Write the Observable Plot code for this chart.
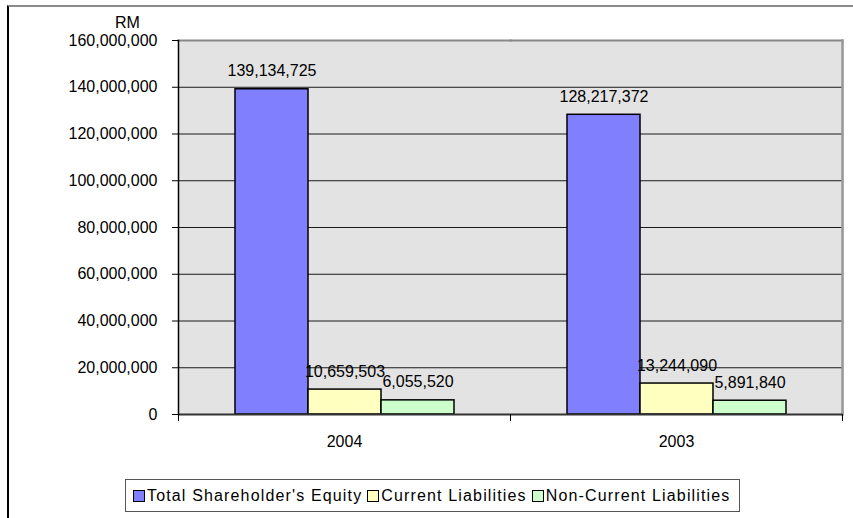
<!DOCTYPE html>
<html><head><meta charset="utf-8">
<script src="https://cdn.jsdelivr.net/npm/d3@7"></script>
<script src="https://cdn.jsdelivr.net/npm/@observablehq/plot@0.6"></script>
<style>
body{margin:0;background:#fff;font-family:"Liberation Sans",Arial,sans-serif;color:#000;}
#wrap{position:relative;width:853px;height:518px;overflow:hidden;}
#border{position:absolute;left:7px;top:5px;right:-10px;bottom:-10px;border-top:2px solid #8a8a8a;border-left:2px solid #000;}
#rm{position:absolute;left:115px;top:15px;font-size:16px;line-height:16px;}
#chart{position:absolute;left:0;top:0;}
#legend{position:absolute;left:125px;top:479px;width:615px;height:33px;box-sizing:border-box;border:1px solid #555;display:flex;align-items:center;padding-left:7px;font-size:16px;letter-spacing:1.15px;white-space:nowrap;}
.item{display:flex;align-items:center;margin-right:5px}
.sw{width:10px;height:10px;border:1.5px solid #000;margin-right:2px}
</style>
</head><body>
<div id="wrap">
<div id="border"></div>
<div id="chart"></div>
<div id="rm">RM</div>
<div id="legend"></div>
</div>
<script>
const years = ["2004", "2003"];
const series = ["Total Shareholder's Equity", "Current Liabilities", "Non-Current Liabilities"];
const equity = [139134725, 128217372];
const currentLiabilities = [10659503, 13244090];
const nonCurrentLiabilities = [6055520, 5891840];
const yTicks = [0, 20000000, 40000000, 60000000, 80000000, 100000000, 120000000, 140000000, 160000000];
const colors = ["#8080ff", "#ffffc0", "#ccffcc"];

const seriesValues = [equity, currentLiabilities, nonCurrentLiabilities];
const data = [];
years.forEach((y, i) => series.forEach((s, j) => data.push({year: y, series: s, value: seriesValues[j][i]})));

const W = 853, H = 465, mT = 40, mB = 51, mL = 178, mR = 11;
const innerH = H - mT - mB;
const fmt = d3.format(",");

const chart = Plot.plot({
  width: W, height: H,
  marginTop: mT, marginBottom: mB, marginLeft: mL, marginRight: mR,
  style: {fontFamily: "'Liberation Sans', Arial, sans-serif", fontSize: "16px", color: "#000", background: "transparent"},
  fx: {domain: years, padding: 0, axis: null},
  x: {domain: series, paddingInner: 0, paddingOuter: 0.75, axis: null},
  y: {domain: [0, 160000000], axis: null},
  color: {domain: series, range: colors},
  marks: [
    Plot.frame({fill: "#e3e3e3", stroke: "none", insetLeft: -1, insetRight: -1, shapeRendering: "crispEdges"}),
    Plot.gridY(yTicks, {stroke: "#1a1a1a", strokeOpacity: 1, strokeWidth: 1}),
    Plot.barY(data, {fx: "year", x: "series", y: "value", fill: "series", stroke: "#000", strokeWidth: 1.5}),
    Plot.text(data, {fx: "year", x: "series", y: "value", text: d => fmt(d.value), dy: -18, fontSize: 16, fill: "#000"}),
    Plot.frame({anchor: "top", stroke: "#888", strokeWidth: 2}),
    Plot.frame({anchor: "right", facetAnchor: "right", stroke: "#999", strokeWidth: 2.5}),
    Plot.ruleY([0], {stroke: "#333", strokeWidth: 2}),
    Plot.frame({anchor: "left", facetAnchor: "left", stroke: "#000", strokeWidth: 1.5}),
    Plot.frame({anchor: "left", insetTop: innerH, insetBottom: -6, stroke: "#000", strokeWidth: 1}),
    Plot.frame({anchor: "right", facetAnchor: "right", insetTop: innerH, insetBottom: -6, stroke: "#000", strokeWidth: 1}),
    Plot.axisY(yTicks, {tickFormat: fmt, tickSize: 6, tickPadding: 15, label: null, stroke: "#000"}),
    Plot.axisFx({anchor: "bottom", tickSize: 0, tickPadding: 21, label: null})
  ]
});
document.getElementById("chart").appendChild(chart);

const legend = document.getElementById("legend");
series.forEach((s, i) => {
  const item = document.createElement("div");
  item.className = "item";
  const sw = document.createElement("div");
  sw.className = "sw";
  sw.style.background = colors[i];
  const t = document.createElement("span");
  t.textContent = s;
  item.appendChild(sw); item.appendChild(t);
  legend.appendChild(item);
});
</script>
</body></html>
